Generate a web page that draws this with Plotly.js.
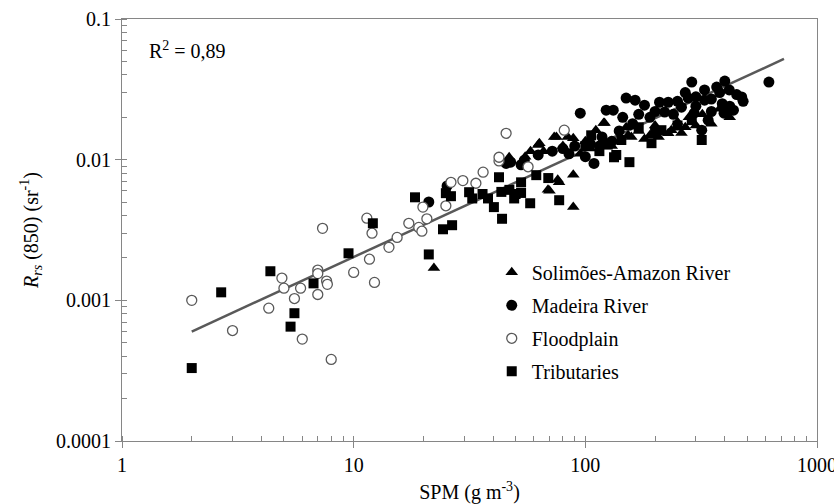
<!DOCTYPE html>
<html>
<head>
<meta charset="utf-8">
<script src="https://cdn.plot.ly/plotly-3.0.1.min.js"></script>
<style>html,body{margin:0;padding:0;background:#fff;}#chart{width:834px;height:504px;}</style>
</head>
<body>
<div id="chart"></div>
<script>
// ---- Data ----
const seriesNames = ["Solimões-Amazon River", "Madeira River", "Floodplain", "Tributaries"];

const solimoesSPM = [22.2, 46.9, 55, 58, 62.6, 63.3, 66, 69, 70, 73.4, 75, 76, 77, 80, 84, 88.7, 88.7, 88.7, 95, 100, 105, 111, 120, 120, 121, 130, 140, 150, 153, 158, 170, 180, 190, 200, 207, 228, 235, 250, 260, 270, 280, 300, 320, 350, 380, 420];
const solimoesRrs = [0.0017, 0.0104, 0.0105, 0.0115, 0.0127, 0.0131, 0.0115, 0.0061, 0.006, 0.0145, 0.0145, 0.0072, 0.0069, 0.0125, 0.0145, 0.0142, 0.0078, 0.0046, 0.011, 0.0135, 0.012, 0.0162, 0.0182, 0.014, 0.0182, 0.0125, 0.0135, 0.017, 0.0149, 0.0145, 0.016, 0.014, 0.0149, 0.0175, 0.0145, 0.0154, 0.0162, 0.0185, 0.0155, 0.017, 0.02, 0.0175, 0.021, 0.018, 0.023, 0.02];

const madeiraSPM = [21.1, 25.3, 45.5, 47.6, 52.8, 54.5, 62.6, 72, 80, 85, 90, 95.1, 100, 105, 109, 115, 118, 123, 130, 132, 140, 145, 150, 160, 164, 170, 180, 190, 200, 209, 220, 228, 240, 250, 260, 270, 278, 288, 295, 300, 300, 318, 327, 327, 339, 350, 350, 369, 380, 390, 397, 400, 418, 420, 436, 450, 473, 480, 620];
const madeiraRrs = [0.005, 0.0065, 0.0094, 0.0096, 0.0092, 0.0099, 0.0108, 0.0115, 0.012, 0.011, 0.0125, 0.0214, 0.0105, 0.013, 0.0094, 0.0125, 0.0145, 0.0225, 0.0135, 0.0225, 0.016, 0.02, 0.0274, 0.018, 0.0265, 0.021, 0.0244, 0.02, 0.022, 0.0256, 0.0218, 0.0256, 0.021, 0.026, 0.0236, 0.03, 0.0274, 0.0356, 0.0214, 0.028, 0.024, 0.0162, 0.0313, 0.0265, 0.0191, 0.027, 0.022, 0.0328, 0.03, 0.025, 0.0214, 0.0362, 0.0313, 0.024, 0.0225, 0.029, 0.0279, 0.026, 0.0356];

const floodSPM = [2, 3, 4.3, 4.9, 5.0, 5.55, 5.9, 6.0, 7.0, 7.0, 7.0, 7.34, 7.64, 7.7, 8.0, 10, 11.4, 11.7, 12, 12.3, 14.2, 15.4, 17.3, 19.1, 19.7, 19.9, 20.7, 25, 26.3, 29.6, 33.7, 36.2, 42.4, 42.4, 45.5, 56.6, 81.1];
const floodRrs = [0.001, 0.00061, 0.00088, 0.00144, 0.00122, 0.00103, 0.00122, 0.00053, 0.00164, 0.00155, 0.0011, 0.00325, 0.00137, 0.0013, 0.00038, 0.00158, 0.00384, 0.00196, 0.003, 0.00134, 0.00238, 0.0028, 0.00353, 0.0033, 0.0031, 0.0046, 0.0038, 0.0047, 0.0069, 0.0071, 0.0068, 0.00815, 0.0098, 0.0104, 0.0154, 0.0089, 0.0162];

const tribSPM = [2, 2.68, 4.37, 5.34, 5.55, 6.71, 9.5, 12.1, 18.4, 21.1, 24.3, 25, 26.3, 26.6, 31.5, 32.5, 36, 38, 40.3, 42.4, 43.4, 43.7, 47, 49.3, 50, 52.8, 52.8, 57.8, 61.4, 69.2, 77.1, 100, 106, 115, 125, 133, 136, 143, 155, 170, 193, 200, 213, 250, 288, 318];
const tribRrs = [0.00033, 0.00114, 0.00161, 0.00065, 0.00081, 0.00132, 0.00216, 0.00353, 0.0054, 0.00212, 0.0032, 0.00578, 0.0055, 0.00342, 0.00587, 0.0053, 0.0057, 0.0053, 0.0046, 0.0075, 0.0059, 0.0038, 0.0061, 0.0053, 0.0057, 0.0069, 0.0058, 0.0049, 0.00776, 0.0074, 0.00515, 0.0125, 0.0149, 0.0115, 0.0128, 0.0104, 0.0108, 0.0138, 0.0096, 0.017, 0.0131, 0.0155, 0.0162, 0.0175, 0.0191, 0.0138];

// regression line end points
const fitSPM = [2, 720];
const fitRrs = [0.0006, 0.052];

const xTickVals = [1, 10, 100, 1000];
const xTickText = ["1", "10", "100", "1000"];
const yTickVals = [0.0001, 0.001, 0.01, 0.1];
const yTickText = ["0.0001", "0.001", "0.01", "0.1"];

const FONT = "Liberation Serif";
const FS = 20;
const AXC = "#868686";

const traces = [
  {x: fitSPM, y: fitRrs, mode: "lines", line: {color: "#595959", width: 2.5}, showlegend: false, hoverinfo: "skip"},
  {x: solimoesSPM, y: solimoesRrs, mode: "markers", name: seriesNames[0], legendgroup: "a",
   marker: {symbol: "triangle-up", size: 11, color: "#000"}},
  {x: madeiraSPM, y: madeiraRrs, mode: "markers", name: seriesNames[1], legendgroup: "b",
   marker: {symbol: "circle", size: 11, color: "#000"}},
  {x: floodSPM, y: floodRrs, mode: "markers", name: seriesNames[2], legendgroup: "c",
   marker: {symbol: "circle", size: 10, color: "#fff", line: {color: "#595959", width: 1.3}}},
  {x: tribSPM, y: tribRrs, mode: "markers", name: seriesNames[3], legendgroup: "d",
   marker: {symbol: "square", size: 10, color: "#000"}}
];

const axisCommon = {
  type: "log", showgrid: false, zeroline: false, showline: true, mirror: true,
  linecolor: AXC, linewidth: 1, ticks: "outside", ticklen: 6, tickcolor: AXC, tickwidth: 1,
  ticklabeloverflow: "allow",
  tickfont: {family: FONT, size: FS, color: "#000"},
  minor: {ticks: "inside", ticklen: 5, tickcolor: AXC, tickwidth: 1, dtick: "D1", showgrid: false}
};

const layout = {
  width: 834, height: 504,
  margin: {l: 122, r: 17, t: 19, b: 63},
  paper_bgcolor: "#fff", plot_bgcolor: "#fff",
  font: {family: FONT, size: FS, color: "#000"},
  xaxis: Object.assign({}, axisCommon, {
    range: [0, 3], tickmode: "array", tickvals: xTickVals, ticktext: xTickText,
    title: {text: "SPM (g m<sup>-3</sup>)", font: {family: FONT, size: FS, color: "#000"}, standoff: 10}
  }),
  yaxis: Object.assign({}, axisCommon, {
    range: [-4, -1], tickmode: "array", tickvals: yTickVals, ticktext: yTickText,
    title: {text: "<i>R</i><sub><i>rs</i></sub> (850) (sr<sup>-1</sup>)", font: {family: FONT, size: FS, color: "#000"}, standoff: 12}
  }),
  legend: {x: 0.532, y: 0.446, xanchor: "left", yanchor: "top", bgcolor: "rgba(0,0,0,0)",
           font: {family: FONT, size: FS, color: "#000"}, tracegroupgap: 4, itemwidth: 30},
  annotations: [{xref: "paper", yref: "paper", x: 0.036, y: 0.927, xanchor: "left", yanchor: "middle",
                 showarrow: false, text: "R<sup>2</sup> = 0,89", font: {family: FONT, size: FS, color: "#000"}}],
  showlegend: true
};

Plotly.newPlot("chart", traces, layout, {displayModeBar: false, staticPlot: true});
</script>
</body>
</html>
